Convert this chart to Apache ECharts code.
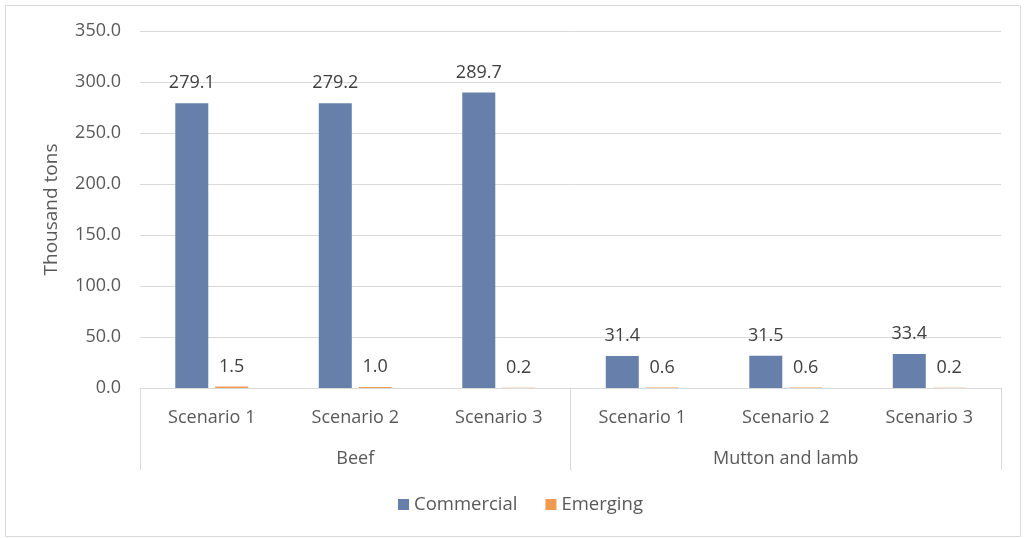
<!DOCTYPE html>
<html>
<head>
<meta charset="utf-8">
<script src="https://cdn.jsdelivr.net/npm/echarts@6/dist/echarts.min.js"></script>
<style>
html,body{margin:0;padding:0;background:#fff;}
#c{width:1026px;height:538px;}
</style>
</head>
<body>
<div id="c"></div>
<script>
const scenarios = ['Scenario 1','Scenario 2','Scenario 3','Scenario 1','Scenario 2','Scenario 3'];
const groups = ['Beef','Mutton and lamb'];
const commercial = [279.1, 279.2, 289.7, 31.4, 31.5, 33.4];
const emerging = [1.5, 1.0, 0.2, 0.6, 0.6, 0.2];
const yTicks = {min: 0, max: 350, interval: 50};

const FONT = '"Open Sans", "Noto Sans", sans-serif';
const FS = 18;
const chart = echarts.init(document.getElementById('c'), null, {renderer: 'canvas'});
const labelStyle = {show: true, position: 'top', distance: 11, color: '#404040', fontSize: FS, fontFamily: FONT, formatter: p => p.value.toFixed(1)};
chart.setOption({
  animation: false,
  textStyle: {fontFamily: FONT},
  graphic: [{type: 'rect', shape: {x: 5.5, y: 5.5, width: 1015, height: 531}, style: {fill: 'none', stroke: '#d9d9d9', lineWidth: 1}, silent: true}],
  grid: {left: 140, right: 25, top: 31, bottom: 150},
  legend: {
    bottom: 19, left: 393, itemWidth: 11, itemHeight: 11, itemGap: 28, icon: 'rect',
    textStyle: {color: '#595959', fontSize: 18.5, fontFamily: FONT},
    data: ['Commercial','Emerging']
  },
  xAxis: [
    {type: 'category', data: scenarios, position: 'bottom',
      axisLine: {show: true, lineStyle: {color: '#d9d9d9', width: 1}},
      axisTick: {show: false},
      axisLabel: {color: '#595959', fontSize: FS, fontFamily: FONT, margin: 21, interval: 0}},
    {type: 'category', data: groups, position: 'bottom',
      axisLine: {show: false},
      axisTick: {show: true, length: 82, lineStyle: {color: '#d9d9d9', width: 1}},
      axisLabel: {color: '#595959', fontSize: FS, fontFamily: FONT, margin: 62, interval: 0}}
  ],
  yAxis: {
    type: 'value', min: yTicks.min, max: yTicks.max, interval: yTicks.interval,
    name: 'Thousand tons', nameLocation: 'middle', nameGap: 79, nameRotate: 90,
    nameTextStyle: {color: '#595959', fontSize: 19, fontFamily: FONT},
    axisLine: {show: false}, axisTick: {show: false},
    axisLabel: {color: '#595959', fontSize: FS, fontFamily: FONT, margin: 19, formatter: v => v.toFixed(1)},
    splitLine: {lineStyle: {color: '#d9d9d9', width: 1}}
  },
  series: [
    {name: 'Commercial', type: 'bar', xAxisIndex: 0, data: commercial, barWidth: 33, barGap: '21%',
      itemStyle: {color: '#6780ab'}, label: labelStyle},
    {name: 'Emerging', type: 'bar', xAxisIndex: 0, data: emerging, barWidth: 33, barGap: '21%',
      itemStyle: {color: '#ee9a4f'}, label: labelStyle}
  ]
});
</script>
</body>
</html>
